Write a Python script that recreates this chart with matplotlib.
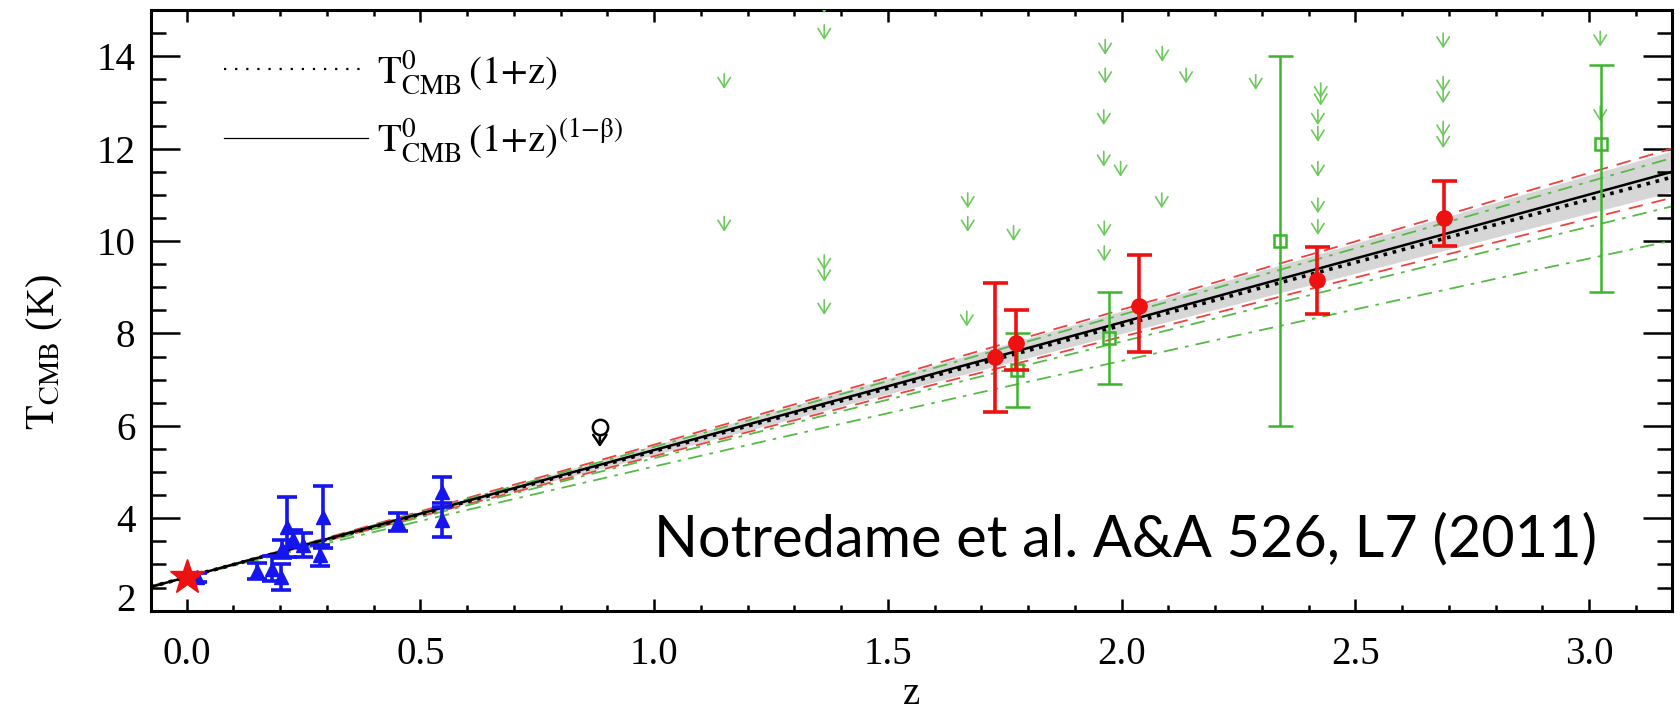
import numpy as np
import matplotlib
matplotlib.use("Agg")
from matplotlib import pyplot as plt
from matplotlib.lines import Line2D
from matplotlib.patches import FancyArrowPatch
from matplotlib.ticker import MultipleLocator, FormatStrFormatter

plt.rcParams['font.family'] = ['Liberation Serif', 'DejaVu Serif']
plt.rcParams['mathtext.fontset'] = 'stix'

# --- data ---
# blue triangles (SZ clusters)
blue_z = [0.023, 0.150, 0.182, 0.202, 0.205, 0.214, 0.228, 0.248, 0.285, 0.292, 0.453, 0.547, 0.547]
blue_T = [2.72, 2.86, 2.91, 2.73, 3.34, 3.81, 3.56, 3.42, 3.20, 4.03, 3.92, 4.57, 3.96]
blue_err = [0.10, 0.17, 0.27, 0.28, 0.20, 0.65, 0.18, 0.26, 0.23, 0.67, 0.19, 0.32, 0.37]

# red circles (CO excitation)
red_z = [1.729, 1.774, 2.038, 2.418, 2.690]
red_T = [7.5, 7.8, 8.6, 9.15, 10.5]
red_lo = [1.2, 0.6, 1.0, 0.72, 0.6]
red_hi = [1.6, 0.7, 1.1, 0.72, 0.8]

# green squares (C I)
green_z = [1.776, 1.973, 2.338, 3.025]
green_T = [7.2, 7.9, 10.0, 12.1]
green_lo = [0.8, 1.0, 4.0, 3.2]
green_hi = [0.8, 1.0, 4.0, 1.7]

# green upper limits
lim_z = [1.150, 1.150,
         1.364, 1.364, 1.364, 1.364, 1.364,
         1.671, 1.671, 1.669, 1.769,
         1.965, 1.965, 1.962, 1.962, 1.998, 1.963, 1.963,
         2.087, 2.086, 2.138, 2.287,
         2.426, 2.426, 2.420, 2.420, 2.420, 2.420, 2.420,
         2.688, 2.688, 2.688, 2.688, 2.688,
         3.024, 3.024]
lim_T = [13.68, 10.59,
         15.32, 14.74, 9.76, 9.51, 8.79,
         11.10, 10.59, 8.54, 10.39,
         14.42, 13.80, 12.90, 12.00, 11.78, 10.49, 9.95,
         14.27, 11.10, 13.80, 13.66,
         13.48, 13.32, 12.90, 12.54, 11.78, 10.99, 10.52,
         14.56, 13.62, 13.37, 12.65, 12.40,
         14.60, 12.98]

# local CMB (star) and the other upper limit
star_z, star_T = [0.0], [2.725]
venus_z, venus_T = [0.884], [5.98]

T0 = 2.725
beta_fit = -0.007
band_beta = (-0.034, 0.020)
red_betas = (-0.037, 0.028)
green_betas = (-0.025, 0.040, 0.090)

xmin, xmax = -0.077, 3.177

fig = plt.figure(figsize=(16.81, 7.11), dpi=100)
ax = fig.add_axes([0.0896, 0.1411, 0.9049, 0.8448])

zz = np.linspace(xmin, xmax, 300)
ax.fill_between(zz, T0 * (1 + zz) ** (1 - band_beta[0]), T0 * (1 + zz) ** (1 - band_beta[1]),
                color='#d6d6d6', lw=0, zorder=1)
for b in red_betas:
    ax.plot(zz, T0 * (1 + zz) ** (1 - b), color='#f04040', lw=1.3, ls=(0, (8, 5)), zorder=2)
for b in green_betas:
    ax.plot(zz, T0 * (1 + zz) ** (1 - b), color='#55bb44', lw=1.3, ls=(0, (8, 4, 2, 4)), zorder=2)
ax.plot(zz, T0 * (1 + zz), color='k', lw=2.6, ls=(0, (1, 1.6)), zorder=3)
ax.plot(zz, T0 * (1 + zz) ** (1 - beta_fit), color='k', lw=1.8, zorder=3)

# upper limit arrows
green_arrow = '#6cc95c'
for z, t in zip(lim_z, lim_T):
    ax.add_patch(FancyArrowPatch((z, t), (z, t - 0.45), arrowstyle='->,head_length=0.45,head_width=0.28',
                                 mutation_scale=16, color=green_arrow, lw=1.2, zorder=4))

ax.errorbar(green_z, green_T, yerr=[green_lo, green_hi], fmt='s', ms=9, mfc='none', mec='#3cb52c',
            mew=1.8, color='#3cb52c', elinewidth=1.8, capsize=9, capthick=1.8, zorder=5)
ax.errorbar(red_z, red_T, yerr=[red_lo, red_hi], fmt='o', ms=11, color='#ee1111',
            elinewidth=2.6, capsize=9, capthick=2.6, zorder=6)
ax.errorbar(blue_z, blue_T, yerr=blue_err, fmt='^', ms=10.5, color='#1515ee',
            elinewidth=2.6, capsize=7, capthick=2.6, zorder=6)
ax.plot(star_z, star_T, '*', ms=26, color='#ee1111', zorder=7)

# the circle-with-arrow upper limit
ax.plot(venus_z, venus_T, 'o', ms=11, mfc='white', mec='k', mew=1.8, zorder=6)
ax.add_patch(FancyArrowPatch((venus_z[0], venus_T[0] - 0.14), (venus_z[0], venus_T[0] - 0.5),
                             arrowstyle='->,head_length=0.45,head_width=0.3', mutation_scale=16,
                             color='k', lw=1.8, zorder=6))

ax.set_xlim(xmin, xmax)
ax.set_ylim(2, 15)
ax.xaxis.set_major_locator(MultipleLocator(0.5))
ax.xaxis.set_minor_locator(MultipleLocator(0.1))
ax.xaxis.set_major_formatter(FormatStrFormatter('%.1f'))
ax.yaxis.set_major_locator(MultipleLocator(2))
ax.yaxis.set_minor_locator(MultipleLocator(0.5))
ax.tick_params(which='both', direction='in', top=True, right=True, labelsize=28, width=1.8)
ax.tick_params(axis='x', which='major', length=8.5, pad=18)
ax.tick_params(axis='x', which='minor', length=4)
ax.tick_params(axis='y', which='major', length=21, pad=11)
ax.tick_params(axis='y', which='minor', length=11)
for s in ax.spines.values():
    s.set_linewidth(2.2)

ax.set_xlabel('z', fontsize=28, va='top')
ax.xaxis.set_label_coords(0.5, -0.108)
ax.set_ylabel(r'$\mathrm{T_{CMB}}$ (K)', fontsize=29, va='center')
ax.yaxis.set_label_coords(-0.0695, 0.43)

handles = [Line2D([], [], color='k', lw=1.6, ls=(0, (1, 4))),
           Line2D([], [], color='k', lw=0.9)]
labels = [r'$\mathrm{T^0_{CMB}\,(1{+}z)}$', r'$\mathrm{T^0_{CMB}\,(1{+}z)^{(1{-}\beta)}}$']
ax.legend(handles, labels, loc='upper left', bbox_to_anchor=(0.025, 0.995), frameon=False,
          fontsize=28, handlelength=3.7, handletextpad=0.25, labelspacing=0.55)

ax.text(0.951, 0.118, 'Notredame et al. A&A 526, L7 (2011)', transform=ax.transAxes,
        ha='right', va='center', fontsize=41.5, family=['Lato', 'DejaVu Sans'], zorder=8)

# the lowest y label sits just above the bottom axis
fig.canvas.draw()
for lab in ax.get_yticklabels():
    if lab.get_text() == '2':
        lab.set_va('baseline')

fig.savefig('out.png', dpi=100)
